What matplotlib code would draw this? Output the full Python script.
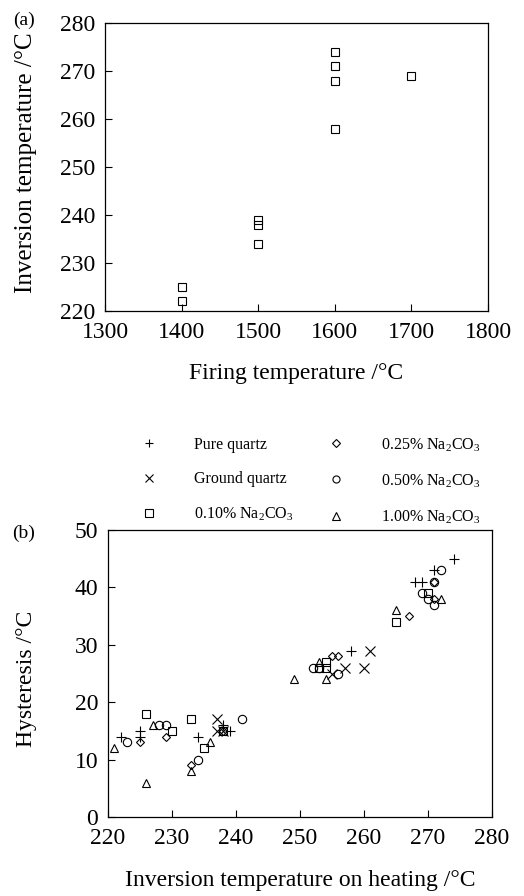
import matplotlib
matplotlib.use('Agg')
import matplotlib.pyplot as plt

plt.rcParams['font.family'] = ['Liberation Serif', 'DejaVu Serif']
plt.rcParams['mathtext.fontset'] = 'custom'
plt.rcParams['mathtext.rm'] = 'Liberation Serif'

# (a) firing temperature vs inversion temperature
fire_t = [1400, 1400, 1500, 1500, 1500, 1600, 1600, 1600, 1600, 1700]
inv_t = [225, 222, 239, 238, 234, 274, 271, 268, 258, 269]

# (b) inversion temperature on heating vs hysteresis, per sample type
pure_x = [222, 225, 225, 234, 238, 239, 258, 268, 269, 271, 274]
pure_y = [14, 15, 14, 14, 16, 15, 29, 41, 41, 43, 45]
ground_x = [237, 237, 238, 255, 257, 260, 261]
ground_y = [17, 15, 15, 25, 26, 26, 29]
na010_x = [226, 230, 233, 235, 238, 253, 254, 254, 265, 270]
na010_y = [18, 15, 17, 12, 15, 26, 27, 26, 34, 39]
na025_x = [225, 229, 233, 238, 255, 256, 267, 271, 271]
na025_y = [13, 14, 9, 15, 28, 28, 35, 38, 41]
na050_x = [223, 228, 229, 234, 241, 252, 253, 256, 269, 270, 271, 271, 272]
na050_y = [13, 16, 16, 10, 17, 26, 26, 25, 39, 38, 37, 41, 43]
na100_x = [221, 226, 227, 233, 236, 249, 253, 254, 265, 272]
na100_y = [12, 6, 16, 8, 13, 24, 27, 24, 36, 38]

fig = plt.figure(figsize=(5.24, 8.96), dpi=100)
ax1 = fig.add_axes([105/524, 1-311/896, 383/524, 288/896])
ax2 = fig.add_axes([108/524, 1-817/896, 384/524, 287/896])

ax1.plot(fire_t, inv_t, 's', ms=6, mfc='none', mec='black', mew=0.8)
ax1.set_xlim(1300, 1800)
ax1.set_ylim(220, 280)
ax1.set_xticks(range(1300, 1801, 100))
ax1.set_yticks(range(220, 281, 10))
ax1.set_xlabel('Firing temperature /°C', fontsize=17)
ax1.set_ylabel('Inversion temperature /°C', fontsize=18)
ax1.xaxis.set_label_coords(0.5, -0.18)
ax1.yaxis.set_label_coords(-0.178, 0.515)

series = [
    (pure_x, pure_y, '+', 'Pure quartz', 7),
    (ground_x, ground_y, 'x', 'Ground quartz', 6.5),
    (na010_x, na010_y, 's', '0.10% Na$_2$CO$_3$', 6),
    (na025_x, na025_y, 'D', '0.25% Na$_2$CO$_3$', 4.5),
    (na050_x, na050_y, 'o', '0.50% Na$_2$CO$_3$', 6),
    (na100_x, na100_y, '^', '1.00% Na$_2$CO$_3$', 6),
]
for xs, ys, m, lab, ms in series:
    ax2.plot(xs, ys, m, ms=ms, mfc='none', mec='black', mew=0.8, label=lab)
ax2.set_xlim(220, 280)
ax2.set_ylim(0, 50)
ax2.set_xticks(range(220, 281, 10))
ax2.set_yticks(range(0, 51, 10))
ax2.set_xlabel('Inversion temperature on heating /°C', fontsize=17)
ax2.set_ylabel('Hysteresis /°C', fontsize=17)
ax2.xaxis.set_label_coords(0.5, -0.185)
ax2.yaxis.set_label_coords(-0.185, 0.48)

for ax in (ax1, ax2):
    ax.tick_params(direction='in', length=5, width=0.8, labelsize=17, pad=7,
                   top=False, right=False)
    ax.tick_params(axis='x', pad=8)
    for s in ax.spines.values():
        s.set_linewidth(0.9)

leg = ax2.legend(ncol=2, loc='upper left', bbox_to_anchor=(125/524, 1-428/896),
                 bbox_transform=fig.transFigure, frameon=False, fontsize=11.5,
                 handlelength=2, handletextpad=1.8, columnspacing=1.7,
                 labelspacing=1.15, borderpad=0, markerscale=0.85)

fig.text(13/524, 1-20/896, '(a)', fontsize=14, ha='left', va='center')
fig.text(12/524, 1-533/896, '(b)', fontsize=14, ha='left', va='center')

fig.savefig('out.png', dpi=100)
